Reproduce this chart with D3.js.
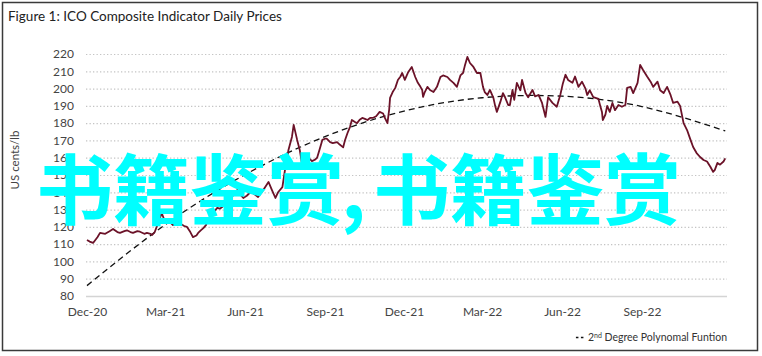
<!DOCTYPE html>
<html><head><meta charset="utf-8">
<script src="https://cdn.jsdelivr.net/npm/d3@7"></script>
<style>
html,body{margin:0;padding:0;background:#fff;}
svg{display:block;}
</style></head>
<body>
<svg id="chart" width="762" height="356"></svg>
<script>
// ---- data ----
const priceDates = ["2020-12-01","2020-12-04","2020-12-08","2020-12-13","2020-12-16","2020-12-22","2020-12-27","2020-12-31","2021-01-05","2021-01-08","2021-01-13","2021-01-16","2021-01-20","2021-01-23","2021-01-28","2021-01-31","2021-02-05","2021-02-08","2021-02-12","2021-02-14","2021-02-17","2021-02-20","2021-02-23","2021-02-25","2021-03-01","2021-03-04","2021-03-08","2021-03-10","2021-03-15","2021-03-18","2021-03-23","2021-03-26","2021-03-30","2021-04-02","2021-04-06","2021-04-08","2021-04-11","2021-04-14","2021-04-17","2021-04-19","2021-04-23","2021-04-25","2021-04-30","2021-05-03","2021-05-07","2021-05-11","2021-05-15","2021-05-18","2021-05-23","2021-05-26","2021-05-30","2021-06-03","2021-06-07","2021-06-10","2021-06-16","2021-06-22","2021-06-28","2021-07-02","2021-07-06","2021-07-09","2021-07-14","2021-07-17","2021-07-21","2021-07-25","2021-07-27","2021-07-31","2021-08-03","2021-08-06","2021-08-09","2021-08-11","2021-08-15","2021-08-17","2021-08-21","2021-08-23","2021-08-26","2021-08-29","2021-09-01","2021-09-03","2021-09-07","2021-09-10","2021-09-15","2021-09-18","2021-09-22","2021-09-24","2021-09-27","2021-09-30","2021-10-02","2021-10-06","2021-10-08","2021-10-11","2021-10-14","2021-10-17","2021-10-20","2021-10-23","2021-10-26","2021-10-30","2021-11-03","2021-11-07","2021-11-09","2021-11-12","2021-11-14","2021-11-15","2021-11-18","2021-11-21","2021-11-24","2021-11-27","2021-11-29","2021-12-02","2021-12-06","2021-12-10","2021-12-14","2021-12-17","2021-12-20","2021-12-22","2021-12-23","2021-12-25","2021-12-28","2021-12-31","2022-01-04","2022-01-08","2022-01-12","2022-01-15","2022-01-20","2022-01-23","2022-01-27","2022-01-31","2022-02-04","2022-02-07","2022-02-09","2022-02-12","2022-02-15","2022-02-19","2022-02-23","2022-02-27","2022-03-02","2022-03-04","2022-03-07","2022-03-10","2022-03-14","2022-03-16","2022-03-18","2022-03-22","2022-03-25","2022-03-27","2022-03-31","2022-04-02","2022-04-05","2022-04-07","2022-04-10","2022-04-14","2022-04-16","2022-04-20","2022-04-23","2022-04-28","2022-05-01","2022-05-05","2022-05-09","2022-05-13","2022-05-16","2022-05-21","2022-05-26","2022-05-30","2022-06-02","2022-06-05","2022-06-08","2022-06-13","2022-06-16","2022-06-20","2022-06-24","2022-06-28","2022-06-30","2022-07-03","2022-07-07","2022-07-13","2022-07-15","2022-07-17","2022-07-18","2022-07-21","2022-07-23","2022-07-26","2022-07-29","2022-08-01","2022-08-05","2022-08-09","2022-08-13","2022-08-15","2022-08-19","2022-08-22","2022-08-27","2022-08-30","2022-09-02","2022-09-07","2022-09-11","2022-09-14","2022-09-19","2022-09-22","2022-09-26","2022-09-30","2022-10-04","2022-10-07","2022-10-12","2022-10-15","2022-10-19","2022-10-23","2022-10-27","2022-10-30","2022-11-03","2022-11-07","2022-11-11","2022-11-15","2022-11-19","2022-11-22","2022-11-24","2022-11-27","2022-11-30","2022-12-04","2022-12-06"];
const priceValues = [112.4,111.5,110.7,114,116.5,116,117.5,118.8,117,116.5,117.5,118,117,116.5,117.5,117.2,116,116.5,116,115.3,117,121,125,128,122.8,124,122,121,121.5,122,120.5,120,117,114.1,115,116.5,118,119.3,121,124,126,128,131,130.5,132,134,137,138,141.3,139,136.7,138,140,139.6,137.3,141.3,146,141.3,136.7,140,143,152.9,164.5,172,179,170.3,164.5,155,157,160.4,159,158,159,160,165,170.3,171,171,169,168.5,169,167.6,166,170,174.3,178,181.8,180.5,180,182,183,182.5,181.8,183,183,184,186.5,185.6,183,180,188,194.6,198,200.4,205,207,209,205,209.6,212.5,206.7,203.3,201,199.2,195.2,198,201,199.2,198,201,206.7,207.6,206.7,205,203.3,201,207.6,209,213,218.3,214.8,212.5,209,209,201,198,196.3,199.2,194.6,190,186.5,192.3,197.4,195.5,190.5,190.5,199.2,193.5,203.3,199,205,197.4,195,199.2,195.5,196.3,191.7,183.6,195,191.7,189.5,196.3,203,208,205,203.3,207,201,204,200,196.3,199,195,194,190,186.5,181.8,185,190,186.5,191.7,187.5,190.5,189.5,190.5,200.4,201,197.4,203.3,213.7,211,207,204,201,204,199,197.4,201,196.3,191.7,192.4,190,180,176,170.3,166.2,162.7,160.4,158.7,157.8,154.6,151.8,153,157,156,157.8,159.6];

const trendDates = ["2020-12-01","2021-03-01","2021-06-01","2021-09-01","2021-12-01","2022-03-01","2022-06-01","2022-09-01","2022-12-06"];
const trendValues = [86,121.2,150.2,172.2,187,194.7,195.6,189.6,175.5];

const yTicks = [80,90,100,110,120,130,140,150,160,170,180,190,200,210,220];
const xTickDates = ["2020-12-01","2021-03-01","2021-06-01","2021-09-01","2021-12-01","2022-03-01","2022-06-01","2022-09-01"];
const xTickLabels = ["Dec-20","Mar-21","Jun-21","Sep-21","Dec-21","Mar-22","Jun-22","Sep-22"];

const titleText = "Figure 1: ICO Composite Indicator Daily Prices";
const yAxisTitle = "US cents/lb";
const legendLabel = ["2", "nd", " Degree Polynomal Funtion"];
const watermarkParts = ["书籍鉴赏", ",", "书籍鉴赏"];

// ---- layout ----
const parse = d3.timeParse("%Y-%m-%d");
const svg = d3.select("#chart");
const plotL = 87, plotR = 727, plotT = 54, plotB = 296;

const x = d3.scaleTime().domain([parse("2020-12-01"), parse("2022-12-08")]).range([plotL, plotR]);
const y = d3.scaleLinear().domain([80, 220]).range([plotB, plotT]);

const tickFont = "Lato, 'Open Sans', sans-serif";

// border
svg.append("rect").attr("x", 2.5).attr("y", 2.5).attr("width", 755).attr("height", 348)
  .attr("fill", "none").attr("stroke", "#3a3a3a").attr("stroke-width", 1.5);

// title
svg.append("text").attr("x", 8).attr("y", 21).text(titleText)
  .attr("font-family", tickFont).attr("font-size", 13.5).attr("fill", "#222");

// gridlines
const yAxis = d3.axisLeft(y).tickValues(yTicks).tickSize(-(plotR - plotL)).tickPadding(13);
const gy = svg.append("g").attr("transform", `translate(${plotL},0)`).call(yAxis);
gy.select(".domain").remove();
gy.selectAll(".tick line")
  .attr("stroke", d => d === 80 ? "#d4d4d4" : "#c4c4c4")
  .attr("stroke-width", d => d === 80 ? 1.5 : 1.2)
  .attr("stroke-dasharray", d => d === 80 ? null : "1.3,2.2")
  .attr("x1", -1);
gy.selectAll(".tick text").attr("font-family", tickFont).attr("font-size", 12).attr("fill", "#444");

// x axis
const xAxis = d3.axisBottom(x).tickValues(xTickDates.map(parse))
  .tickFormat((d, i) => xTickLabels[i]).tickSize(0).tickPadding(11);
const gx = svg.append("g").attr("transform", `translate(0,${plotB})`).call(xAxis);
gx.select(".domain").remove();
gx.selectAll(".tick text").attr("font-family", tickFont).attr("font-size", 12).attr("fill", "#444");

// y axis title
svg.append("text").attr("transform", "translate(19,160) rotate(-90)")
  .attr("text-anchor", "middle").text(yAxisTitle)
  .attr("font-family", tickFont).attr("font-size", 11.5).attr("fill", "#444");

// trend line
const trendData = trendDates.map((d, i) => ({date: parse(d), v: trendValues[i]}));
svg.append("path").datum(trendData)
  .attr("d", d3.line().x(d => x(d.date)).y(d => y(d.v)).curve(d3.curveNatural))
  .attr("fill", "none").attr("stroke", "#111").attr("stroke-width", 1.3)
  .attr("stroke-dasharray", "6,4");

// price line
const priceData = priceDates.map((d, i) => ({date: parse(d), v: priceValues[i]}));
svg.append("path").datum(priceData)
  .attr("d", d3.line().x(d => x(d.date)).y(d => y(d.v)))
  .attr("fill", "none").attr("stroke", "#6b1228").attr("stroke-width", 1.8)
  .attr("stroke-linejoin", "round");

// legend
const lg = svg.append("g");
const lt = lg.append("text").attr("x", 727).attr("y", 341).attr("text-anchor", "end")
  .attr("font-family", tickFont).attr("font-size", 10.5).attr("fill", "#333");
lt.append("tspan").text(legendLabel[0]);
lt.append("tspan").text(legendLabel[1]).attr("font-size", 7).attr("dy", -3.5);
lt.append("tspan").text(legendLabel[2]).attr("dy", 3.5);
const bb = lt.node().getBBox();
lg.append("line").attr("x1", bb.x - 12).attr("x2", bb.x - 3).attr("y1", 337.5).attr("y2", 337.5)
  .attr("stroke", "#111").attr("stroke-width", 1.3).attr("stroke-dasharray", "2.5,2.5");

// watermark
const wmFont = "'Noto Sans CJK SC', sans-serif";
const wm = svg.append("g").attr("fill", "#00FFFF").attr("font-family", wmFont)
  .attr("font-weight", "bold").attr("font-size", 77);
wm.append("text").attr("x", 36).attr("y", 219).text(watermarkParts[0]);
wm.append("text").attr("x", 341).attr("y", 219).text(watermarkParts[1]);
wm.append("text").attr("x", 373).attr("y", 219).text(watermarkParts[2]);
</script>
</body></html>
